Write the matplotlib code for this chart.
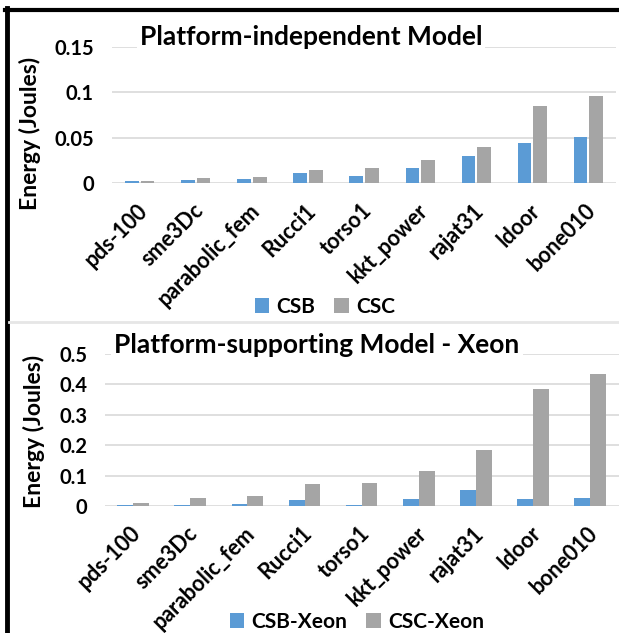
import matplotlib
matplotlib.use("Agg")
import matplotlib.pyplot as plt
import matplotlib.transforms as mtransforms
from matplotlib.lines import Line2D
import numpy as np

plt.rcParams['font.family'] = ['Lato', 'DejaVu Sans']
plt.rcParams['font.weight'] = 'bold'

categories = ["pds-100", "sme3Dc", "parabolic_fem", "Rucci1", "torso1",
              "kkt_power", "rajat31", "ldoor", "bone010"]

csb = [0.0026, 0.0037, 0.0048, 0.0114, 0.0084, 0.0172, 0.0300, 0.0447, 0.0505]
csc = [0.0026, 0.0059, 0.0070, 0.0150, 0.0172, 0.0253, 0.0403, 0.0846, 0.0960]

csb_xeon = [0.003, 0.003, 0.0066, 0.020, 0.003, 0.023, 0.0515, 0.023, 0.026]
csc_xeon = [0.010, 0.027, 0.034, 0.072, 0.076, 0.115, 0.184, 0.385, 0.434]

top_ticks = [0, 0.05, 0.1, 0.15]
top_ticklabels = ["0", "0.05", "0.1", "0.15"]
bot_ticks = [0, 0.1, 0.2, 0.3, 0.4, 0.5]
bot_ticklabels = ["0", "0.1", "0.2", "0.3", "0.4", "0.5"]

BLUE = "#5B9BD5"
GRAY = "#A5A5A5"
GRID = "#D9D9D9"

W, H = 619, 633
fig = plt.figure(figsize=(W / 100, H / 100), dpi=100)


def px_axes(left, right, top, bottom):
    return fig.add_axes([left / W, 1 - bottom / H, (right - left) / W, (bottom - top) / H])


def style(ax, ticks, ticklabels, ymax, ypad):
    x = np.arange(len(categories))
    ax.set_xlim(-0.5, len(categories) - 0.5)
    ax.set_ylim(0, ymax)
    ax.set_yticks(ticks)
    ax.set_yticklabels(ticklabels, fontsize=14.5, fontweight='bold')
    ax.yaxis.grid(True, color=GRID, linewidth=1.2)
    ax.set_axisbelow(True)
    for s in ax.spines.values():
        s.set_visible(False)
    ax.tick_params(axis='both', length=0)
    ax.tick_params(axis='y', pad=ypad)
    ax.set_xticks(x)
    ax.set_xticklabels(categories, rotation=45, ha='right', va='top',
                       rotation_mode='anchor', fontsize=15.5, fontweight='bold')
    offset = mtransforms.ScaledTranslation(-3 / 100, -11.7 / 100, fig.dpi_scale_trans)
    for lab in ax.get_xticklabels():
        lab.set_transform(lab.get_transform() + offset)
    return x


# Top panel
ax1 = px_axes(111.8, 616.3, 46.7, 183.3)
x = style(ax1, top_ticks, top_ticklabels, 0.15, 13)
b1 = ax1.bar(x - 0.14, csb, 0.24, color=BLUE, zorder=2, label="CSB")
b2 = ax1.bar(x + 0.14, csc, 0.24, color=GRAY, zorder=2, label="CSC")

fig.text(311 / W, 1 - 37 / H, "Platform-independent Model", ha='center', va='center',
         fontsize=19, fontweight='bold',
         bbox=dict(facecolor='white', edgecolor='none', pad=2))
fig.legend(handles=[b1, b2], labels=["CSB", "CSC"], loc='center',
           bbox_to_anchor=(325 / W, 1 - 307 / H), ncol=2, frameon=False,
           prop=dict(size=15, weight='bold'), handlelength=0.7, handleheight=0.7,
           handletextpad=0.35, columnspacing=0.9)

# Bottom panel
ax2 = px_axes(104.5, 618.8, 354, 506)
x = style(ax2, bot_ticks, bot_ticklabels, 0.5, 12.5)
c1 = ax2.bar(x - 0.138, csb_xeon, 0.276, color=BLUE, zorder=2, label="CSB-Xeon")
c2 = ax2.bar(x + 0.138, csc_xeon, 0.276, color=GRAY, zorder=2, label="CSC-Xeon")

fig.text(317 / W, 1 - 345 / H, "Platform-supporting Model - Xeon", ha='center', va='center',
         fontsize=19, fontweight='bold',
         bbox=dict(facecolor='white', edgecolor='none', pad=2))
fig.legend(handles=[c1, c2], labels=["CSB-Xeon", "CSC-Xeon"], loc='center',
           bbox_to_anchor=(357 / W, 1 - 622 / H), ncol=2, frameon=False,
           prop=dict(size=15, weight='bold'), handlelength=0.7, handleheight=0.7,
           handletextpad=0.35, columnspacing=0.9)

# y labels placed in pixel positions
for xc, yc in [(29.6, 133), (33.6, 431)]:
    fig.text(xc / W, 1 - yc / H, "Energy (Joules)", rotation=90, ha='center', va='center',
             fontsize=16.5, fontweight='bold')

# frame lines
fig.add_artist(Line2D([7 / W, 7 / W], [0, 1 - 8 / H], transform=fig.transFigure,
                      color='black', linewidth=3.5))
fig.add_artist(Line2D([5 / W, 1], [1 - 9.5 / H, 1 - 9.5 / H], transform=fig.transFigure,
                      color='black', linewidth=3))
fig.add_artist(Line2D([9 / W, 1], [1 - 321.5 / H, 1 - 321.5 / H], transform=fig.transFigure,
                      color='#E6E6E6', linewidth=2))

fig.savefig("out.png", dpi=100)
